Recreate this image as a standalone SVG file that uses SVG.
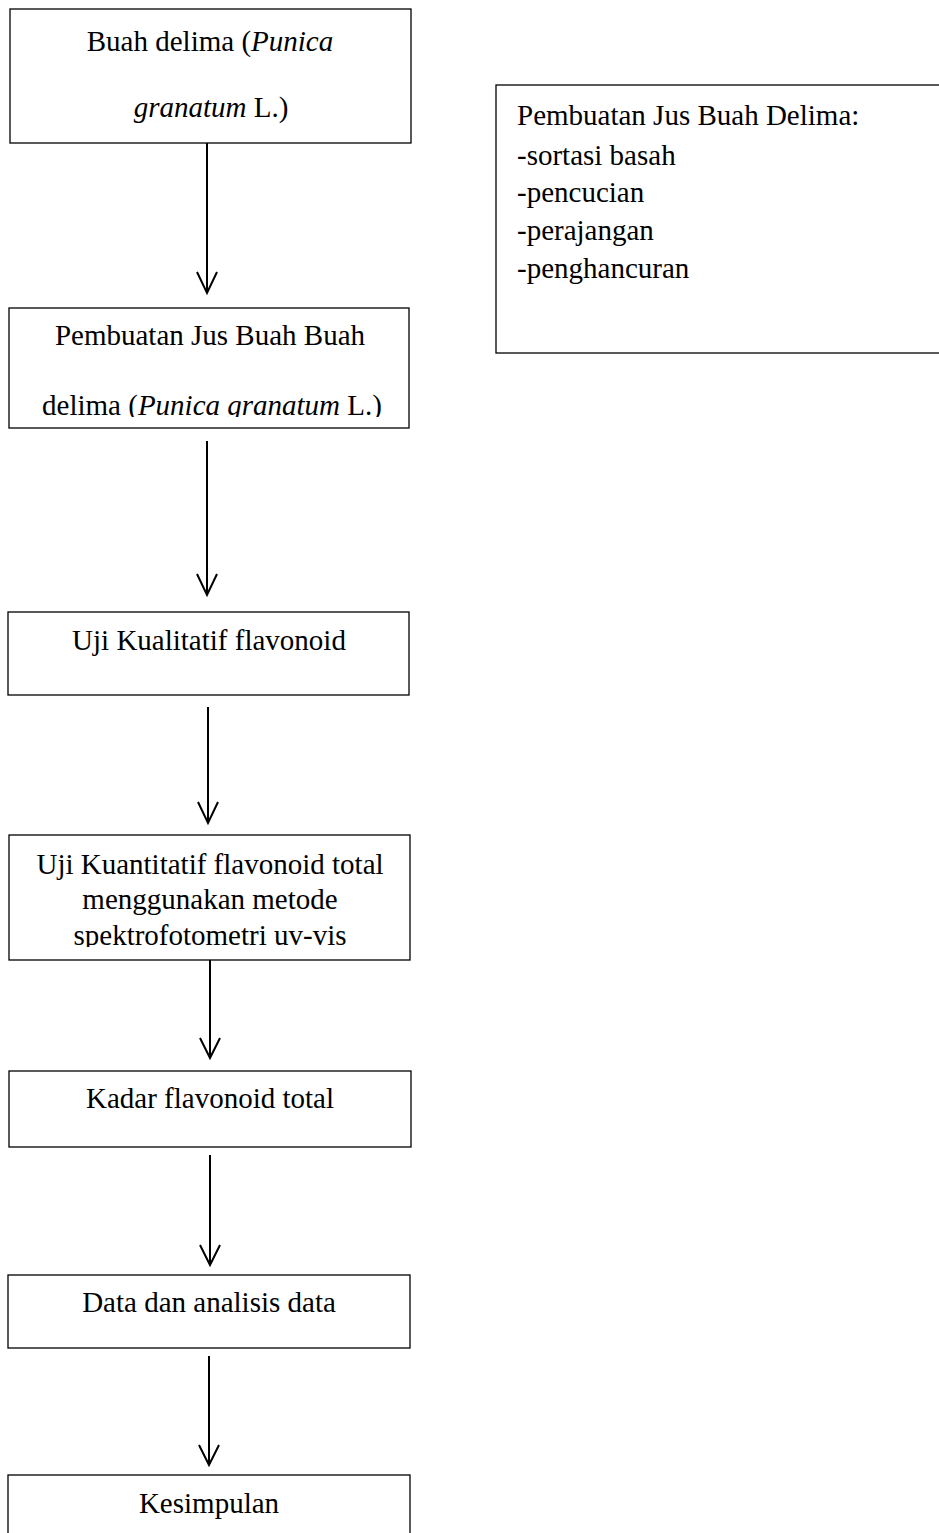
<svg xmlns="http://www.w3.org/2000/svg" width="939" height="1533" viewBox="0 0 939 1533">
<style>
.box{fill:#fff;stroke:#000;stroke-width:1.3}
.t{font-family:"Liberation Serif","Times New Roman",serif;font-size:29px;fill:#000}
.c{text-anchor:middle}
.i{font-style:italic}
.conn line,.conn polyline{stroke:#000;stroke-width:2;fill:none}
</style>
<defs>
<clipPath id="clip2"><rect x="9" y="308" width="400" height="109"/></clipPath>
<clipPath id="clip4"><rect x="9" y="835" width="401" height="112"/></clipPath>
</defs>
<g id="node-buah">
<rect class="box" x="10" y="9" width="401" height="134"/>
<text class="t c" x="210" y="51">Buah delima (<tspan class="i">Punica</tspan></text>
<text class="t c" x="211" y="117"><tspan class="i">granatum</tspan> L.)</text>
</g>
<g id="node-note">
<rect class="box" x="496" y="85" width="460" height="268"/>
<text class="t" x="517" y="125">Pembuatan Jus Buah Delima:</text>
<text class="t" x="517" y="165">-sortasi basah</text>
<text class="t" x="517" y="202">-pencucian</text>
<text class="t" x="517" y="240">-perajangan</text>
<text class="t" x="517" y="278">-penghancuran</text>
</g>
<g id="node-jus">
<rect class="box" x="9" y="308" width="400" height="120"/>
<g clip-path="url(#clip2)">
<text class="t c" x="210" y="345">Pembuatan Jus Buah Buah</text>
<text class="t c" x="212" y="415">delima (<tspan class="i">Punica granatum</tspan> L.)</text>
</g>
</g>
<g id="node-kualitatif">
<rect class="box" x="8" y="612" width="401" height="83"/>
<text class="t c" x="209" y="650">Uji Kualitatif flavonoid</text>
</g>
<g id="node-kuantitatif">
<rect class="box" x="9" y="835" width="401" height="125"/>
<g clip-path="url(#clip4)">
<text class="t c" x="210" y="874">Uji Kuantitatif flavonoid total</text>
<text class="t c" x="210" y="909">menggunakan metode</text>
<text class="t c" x="210" y="945">spektrofotometri uv-vis</text>
</g>
</g>
<g id="node-kadar">
<rect class="box" x="9" y="1071" width="402" height="76"/>
<text class="t c" x="210" y="1108">Kadar flavonoid total</text>
</g>
<g id="node-data">
<rect class="box" x="8" y="1275" width="402" height="73"/>
<text class="t c" x="209" y="1312">Data dan analisis data</text>
</g>
<g id="node-kesimpulan">
<rect class="box" x="8" y="1475" width="402" height="80"/>
<text class="t c" x="209" y="1513">Kesimpulan</text>
</g>
<g id="connectors" class="conn">
<line x1="207" y1="143" x2="207" y2="293"/>
<polyline points="197,272 207,293 217,272"/>
<line x1="207" y1="441" x2="207" y2="595"/>
<polyline points="197,574 207,595 217,574"/>
<line x1="208" y1="707" x2="208" y2="823"/>
<polyline points="198,802 208,823 218,802"/>
<line x1="210" y1="960" x2="210" y2="1058"/>
<polyline points="200,1038 210,1058 220,1038"/>
<line x1="210" y1="1155" x2="210" y2="1265"/>
<polyline points="200,1245 210,1265 220,1245"/>
<line x1="209" y1="1356" x2="209" y2="1465"/>
<polyline points="199,1445 209,1465 219,1445"/>
</g>
</svg>
